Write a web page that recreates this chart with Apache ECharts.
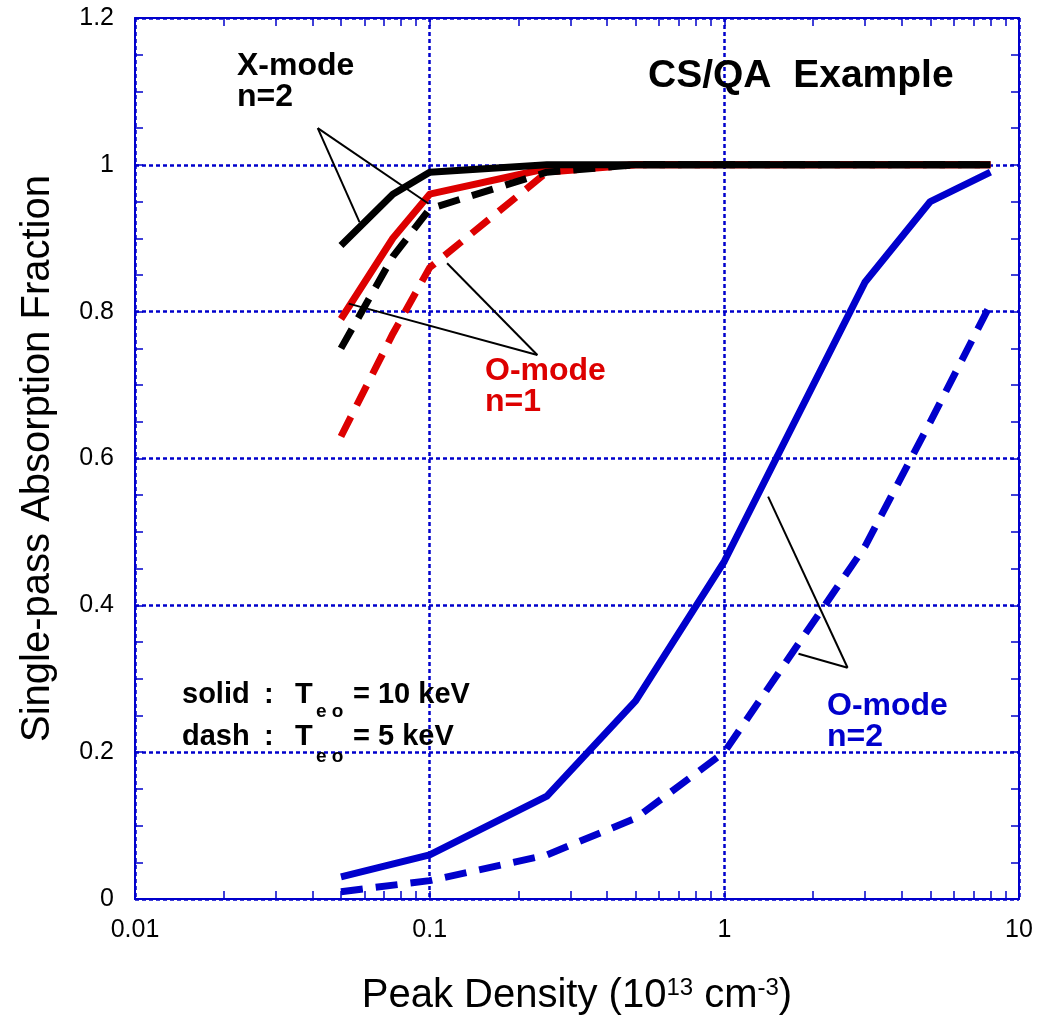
<!DOCTYPE html>
<html>
<head>
<meta charset="utf-8">
<title>CS/QA Example</title>
<script src="https://cdn.jsdelivr.net/npm/echarts@6/dist/echarts.min.js"></script>
<style>
  html, body { margin: 0; padding: 0; background: #fff; }
  #main { width: 1048px; height: 1021px; }
</style>
</head>
<body>
<div id="main"></div>
<script>
// peak density (10^13 cm^-3)
var xModeDensity = [0.05, 0.075, 0.1, 0.25, 0.5, 1, 3, 5, 8];
var oMode2Density = [0.05, 0.1, 0.25, 0.5, 1, 3, 5, 8];

// single-pass absorption fraction
var xMode2Hot = [0.89, 0.96, 0.99, 1.0, 1.0, 1.0, 1.0, 1.0, 1.0];     // X-mode n=2, 10 keV
var xMode2Cold = [0.75, 0.875, 0.94, 0.99, 1.0, 1.0, 1.0, 1.0, 1.0];  // X-mode n=2, 5 keV
var oMode1Hot = [0.79, 0.90, 0.96, 0.995, 1.0, 1.0, 1.0, 1.0, 1.0];   // O-mode n=1, 10 keV
var oMode1Cold = [0.63, 0.77, 0.86, 0.99, 1.0, 1.0, 1.0, 1.0, 1.0];   // O-mode n=1, 5 keV
var oMode2Hot = [0.03, 0.06, 0.14, 0.27, 0.46, 0.84, 0.95, 0.99];     // O-mode n=2, 10 keV
var oMode2Cold = [0.01, 0.025, 0.06, 0.11, 0.2, 0.48, 0.65, 0.81];    // O-mode n=2, 5 keV

// tick labels
var yTickLabels = ['0', '0.2', '0.4', '0.6', '0.8', '1', '1.2'];

// pointer lines from the labels to the curves [density, fraction]
var xModePointers = [[[0.0417, 1.05], [0.0578, 0.922]], [[0.0417, 1.05], [0.0992, 0.947]]];
var oMode1Pointers = [[[0.232, 0.741], [0.0531, 0.811]], [[0.232, 0.741], [0.1146, 0.866]]];
var oMode2Pointers = [[[2.62, 0.315], [1.408, 0.548]], [[2.62, 0.315], [1.785, 0.334]]];

var BLUE = '#0000CC';
var RED = '#DD0000';
var FONT = '"Liberation Sans", Arial, Helvetica, sans-serif';

// minor ticks of the log axis: 1..9 x each decade
var xTicks = [];
[0.01, 0.1, 1].forEach(function (d) {
    for (var k = 1; k < 10; k++) {
        xTicks.push(+(d * k).toPrecision(3));
    }
});
xTicks.push(10);

var pairs = function (xs, ys) {
    return xs.map(function (x, i) { return [x, ys[i]]; });
};

var makeSeries = function (name, xs, ys, color, dashed) {
    return {
        name: name,
        type: 'line',
        data: pairs(xs, ys),
        symbol: 'none',
        silent: true,
        lineStyle: {
            color: color,
            width: 7,
            type: dashed ? [22, 13] : 'solid',
            cap: 'butt',
            join: 'round'
        }
    };
};

var pointerData = xModePointers.concat(oMode1Pointers, oMode2Pointers).map(function (p) {
    return [{coord: p[0]}, {coord: p[1]}];
});

// axis that only draws the frame line and the 2..9 ticks
var xAxisBase = function (pos) {
    return {
        type: 'log',
        logBase: 10,
        min: 0.01,
        max: 10,
        position: pos,
        axisLine: {show: true, onZero: false, lineStyle: {color: BLUE, width: 2}},
        axisTick: {show: true, inside: true, length: 8, customValues: xTicks, lineStyle: {color: BLUE, width: 1.5}},
        minorTick: {show: false},
        splitLine: {show: false},
        axisLabel: {show: false}
    };
};

var yAxisBase = function (pos) {
    return {
        type: 'value',
        min: 0,
        max: 1.2,
        interval: 0.2,
        position: pos,
        axisLine: {show: true, onZero: false, lineStyle: {color: BLUE, width: 2}},
        axisTick: {show: true, inside: true, length: 8, lineStyle: {color: BLUE, width: 1.5}},
        minorTick: {show: true, splitNumber: 4, length: 8, lineStyle: {color: BLUE, width: 1.5}},
        splitLine: {show: false},
        axisLabel: {show: false}
    };
};

// main x axis: decade labels, grid lines, title
var xMain = {
    type: 'log',
    logBase: 10,
    min: 0.01,
    max: 10,
    position: 'bottom',
    axisLine: {show: true, onZero: false, lineStyle: {color: BLUE, width: 2}},
    axisTick: {show: false},
    splitLine: {show: true, lineStyle: {color: BLUE, width: 2.5, type: [4, 3]}},
    axisLabel: {show: true, color: '#000', fontSize: 25, fontFamily: FONT, margin: 19,
        formatter: function (v) { return String(+v.toPrecision(3)); }},
    name: 'Peak Density (10{sup|13} cm{sup|-3})',
    nameLocation: 'middle',
    nameGap: 77,
    nameTextStyle: {color: '#000', fontSize: 40, fontFamily: FONT,
        rich: {sup: {fontSize: 24, fontFamily: FONT, color: '#000', verticalAlign: 'top'}}}
};

var yLeft = yAxisBase('left');
yLeft.splitLine = {show: true, lineStyle: {color: BLUE, width: 2.5, type: [4, 3]}};
yLeft.axisLabel = {show: true, color: '#000', fontSize: 25, fontFamily: FONT, margin: 21,
    formatter: function (v) { return yTickLabels[Math.round(v / 0.2)]; }};
yLeft.name = 'Single-pass Absorption Fraction';
yLeft.nameLocation = 'middle';
yLeft.nameGap = 77;
yLeft.nameTextStyle = {color: '#000', fontSize: 40, fontFamily: FONT};

var textItem = function (t, x, y, size, color) {
    return {
        type: 'text',
        x: x,
        y: y,
        silent: true,
        z: 100,
        style: {
            text: t,
            fill: color || '#000',
            font: 'bold ' + size + 'px ' + FONT,
            textAlign: 'left',
            textVerticalAlign: 'middle'
        }
    };
};

var graphics = [
    textItem('X-mode', 237, 66, 32),
    textItem('n=2', 237, 97, 32),
    textItem('CS/QA  Example', 648, 76, 39),
    textItem('O-mode', 485, 371, 32, RED),
    textItem('n=1', 485, 402, 32, RED),
    textItem('O-mode', 827, 706, 32, BLUE),
    textItem('n=2', 827, 737, 32, BLUE),
    textItem('solid', 182, 695, 29),
    textItem(':', 264, 695, 29),
    textItem('T', 295, 695, 29),
    textItem('e o', 316, 712, 19),
    textItem('= 10 keV', 353, 695, 29),
    textItem('dash', 182, 737, 29),
    textItem(':', 264, 737, 29),
    textItem('T', 295, 737, 29),
    textItem('e o', 316, 757, 19),
    textItem('= 5 keV', 353, 737, 29)
];

var myChart = echarts.init(document.getElementById('main'), null, {renderer: 'canvas'});
myChart.setOption({
    animation: false,
    backgroundColor: '#fff',
    grid: {left: 135, right: 29, top: 18, bottom: 122},
    xAxis: [xMain, xAxisBase('bottom'), xAxisBase('top')],
    yAxis: [yLeft, yAxisBase('right')],
    series: [
        makeSeries('O-mode n=1, 5 keV', xModeDensity, oMode1Cold, RED, true),
        makeSeries('O-mode n=1, 10 keV', xModeDensity, oMode1Hot, RED, false),
        makeSeries('X-mode n=2, 5 keV', xModeDensity, xMode2Cold, '#000', true),
        makeSeries('X-mode n=2, 10 keV', xModeDensity, xMode2Hot, '#000', false),
        makeSeries('O-mode n=2, 5 keV', oMode2Density, oMode2Cold, BLUE, true),
        makeSeries('O-mode n=2, 10 keV', oMode2Density, oMode2Hot, BLUE, false),
        {
            name: 'pointers',
            type: 'line',
            data: [],
            silent: true,
            z: 10,
            markLine: {
                silent: true,
                symbol: 'none',
                animation: false,
                label: {show: false},
                lineStyle: {color: '#000', width: 2, type: 'solid'},
                data: pointerData
            }
        }
    ],
    graphic: graphics
});
</script>
</body>
</html>
